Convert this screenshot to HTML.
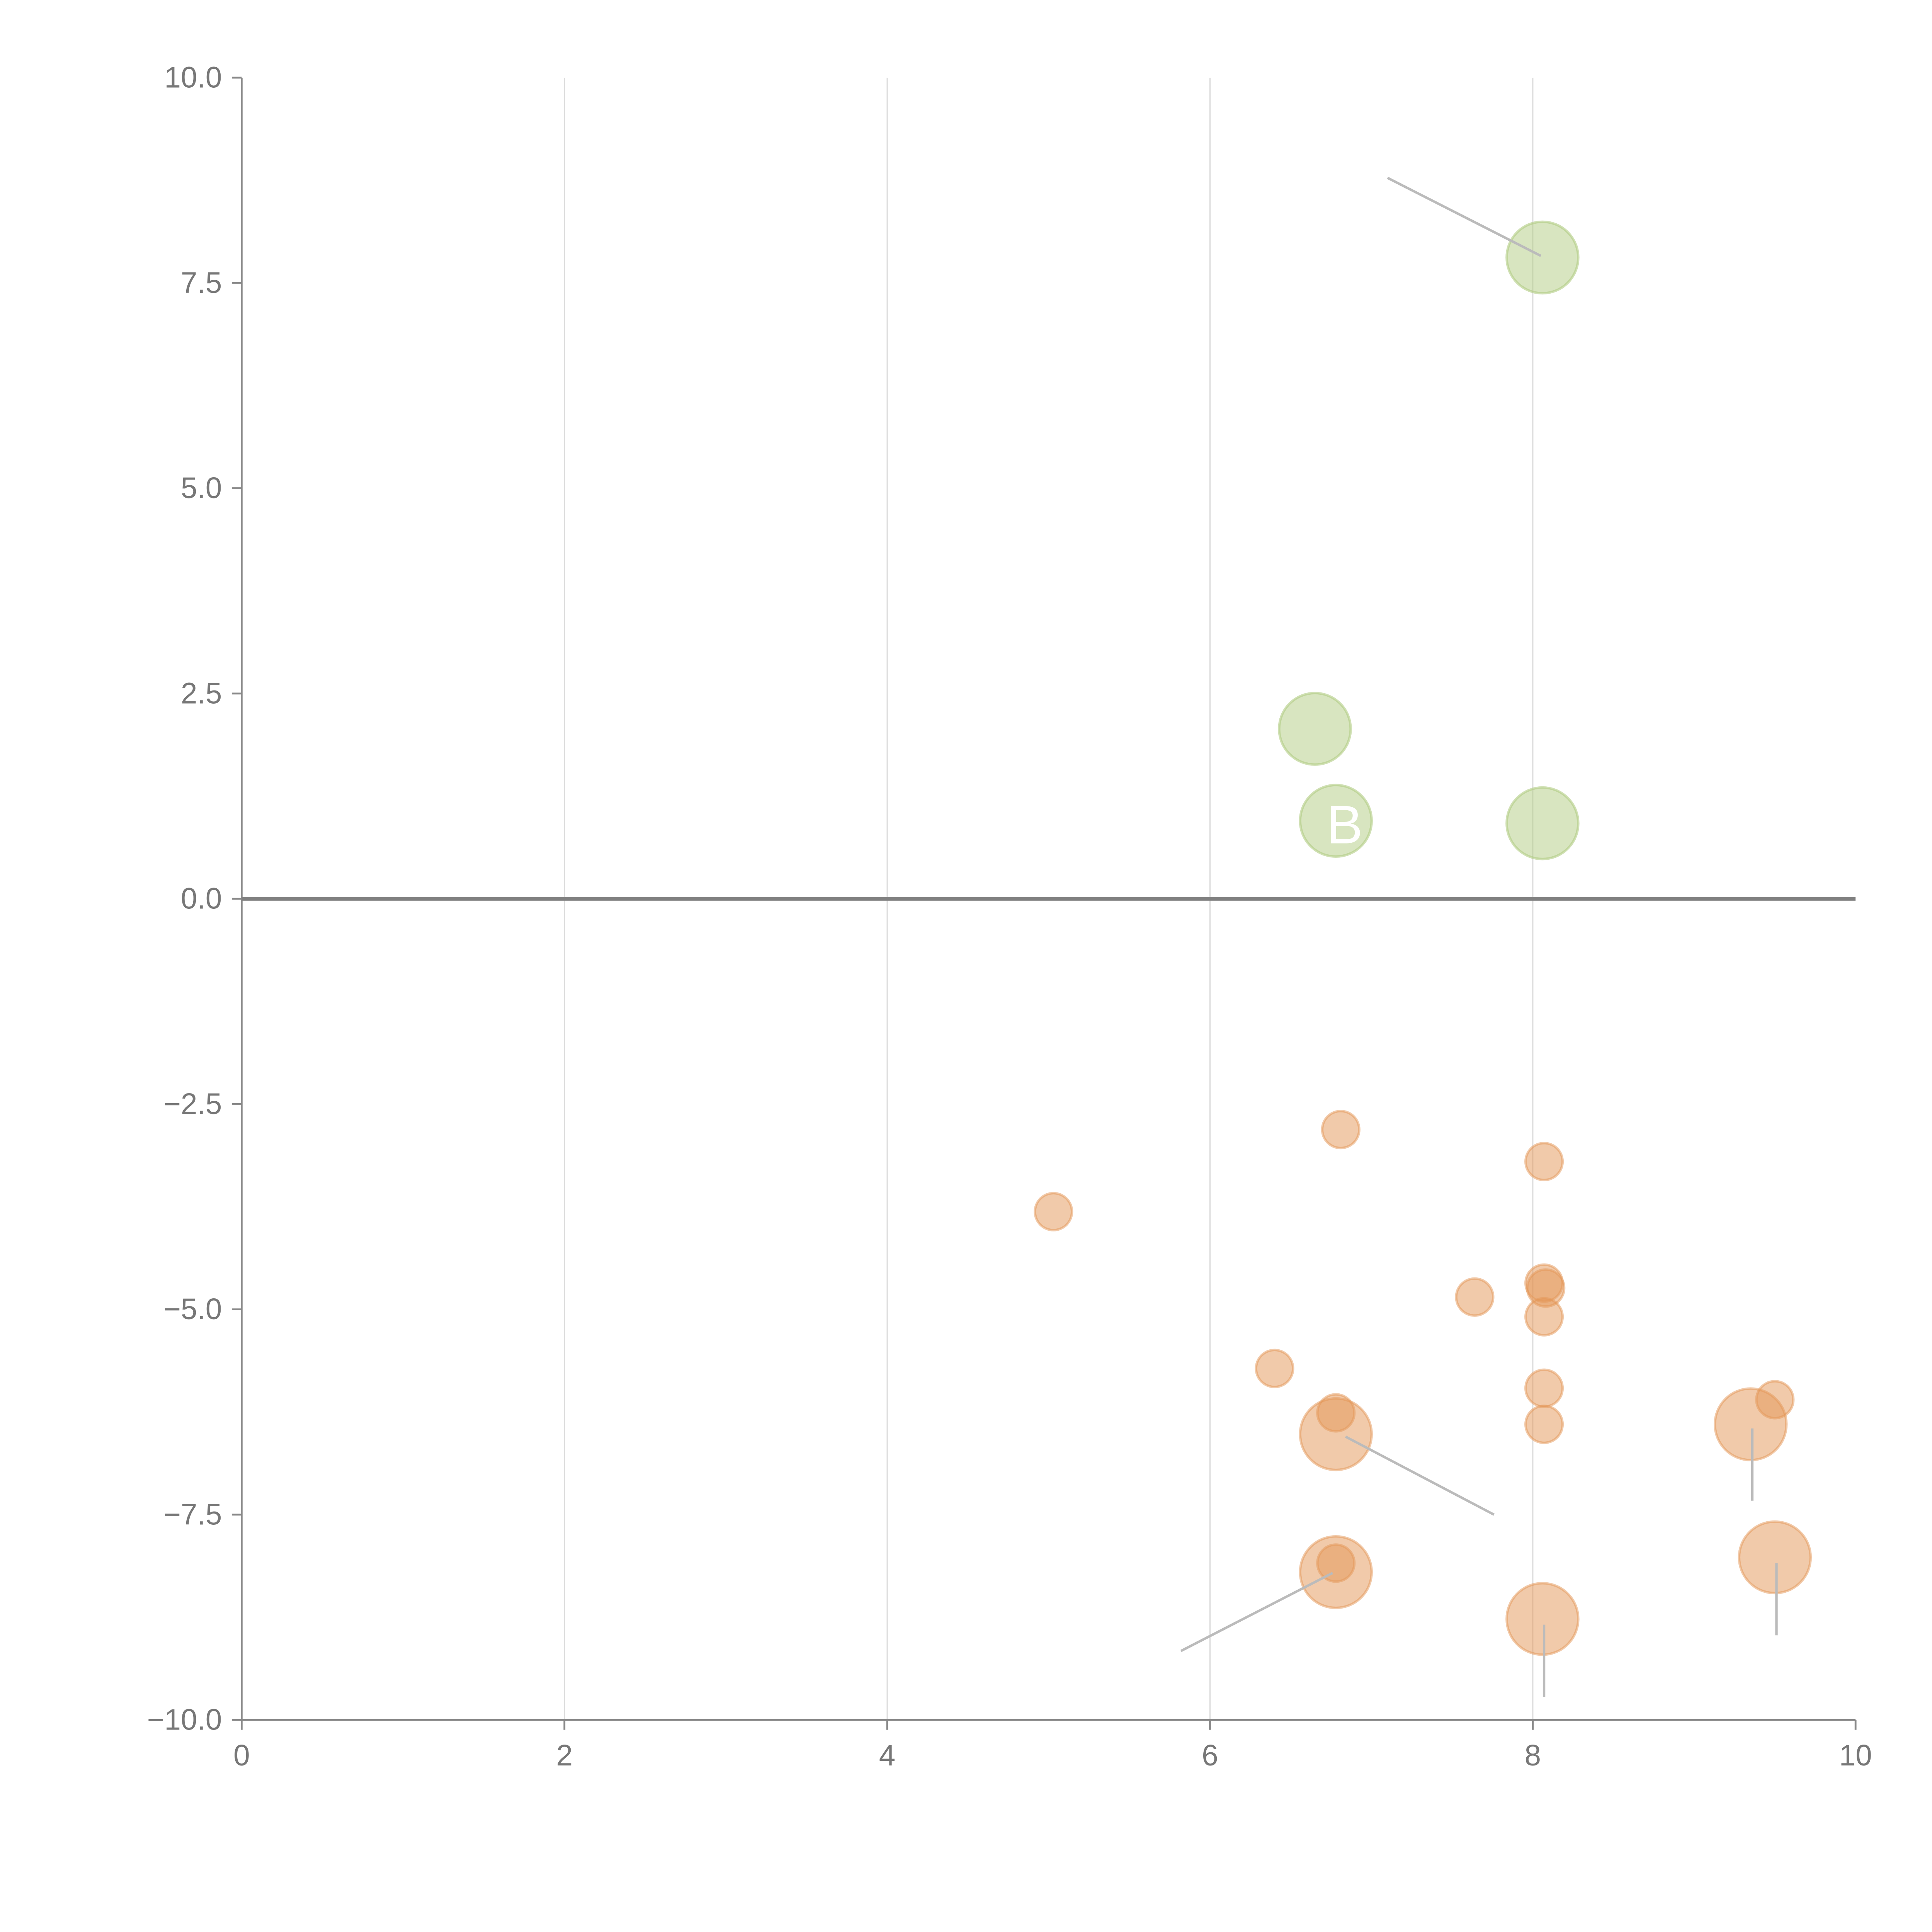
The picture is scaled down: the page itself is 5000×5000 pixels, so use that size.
<!DOCTYPE html>
<html><head><meta charset="utf-8"><style>
html,body{margin:0;padding:0;background:#fff;}
svg{display:block;}
text{font-family:"Liberation Sans",sans-serif;}
</style></head><body>
<svg id="chart" width="5000" height="5000" viewBox="0 0 1567 1567" xmlns="http://www.w3.org/2000/svg">
<g id="grid"></g>
<g id="axes"></g>
<g id="marks"></g>
<g id="labels"></g>
</svg>
<script>
const xTicks = [0, 2, 4, 6, 8, 10];
const yTicks = [10, 7.5, 5, 2.5, 0, -2.5, -5, -7.5, -10];
const yTickLabels = ["10.0", "7.5", "5.0", "2.5", "0.0", "\u22122.5", "\u22125.0", "\u22127.5", "\u221210.0"];
const greenX = [8.06, 6.65, 6.78, 8.06];
const greenY = [7.81, 2.07, 0.95, 0.92];
const smallX = [6.81, 8.07, 5.03, 8.07, 8.08, 7.64, 8.07, 6.40, 8.07, 9.50, 6.78, 8.07, 6.78];
const smallY = [-2.81, -3.20, -3.81, -4.68, -4.74, -4.85, -5.09, -5.72, -5.96, -6.10, -6.26, -6.40, -8.09];
const bigX = [6.78, 9.35, 6.78, 9.50, 8.06];
const bigY = [-6.52, -6.40, -8.20, -8.02, -8.77];
const leaderX1 = [7.10, 6.84, 5.82, 9.36, 9.51, 8.07];
const leaderY1 = [8.78, -6.55, -9.16, -6.45, -8.09, -8.84];
const leaderX2 = [8.05, 7.76, 6.76, 9.36, 9.51, 8.07];
const leaderY2 = [7.83, -7.50, -8.21, -7.33, -8.97, -9.72];

const NS = "http://www.w3.org/2000/svg";
const X0 = 196, X1 = 1505, Y0 = 1395, Y1 = 63;
function sx(v){ return X0 + (v - 0) / 10 * (X1 - X0); }
function sy(v){ return Y0 - (v + 10) / 20 * (Y0 - Y1); }
function mk(tag, attrs, parent){
  const e = document.createElementNS(NS, tag);
  for (const k in attrs) e.setAttribute(k, attrs[k]);
  parent.appendChild(e);
  return e;
}
const grid = document.getElementById('grid');
const axes = document.getElementById('axes');
const marks = document.getElementById('marks');
const labels = document.getElementById('labels');

xTicks.forEach(function(t){
  if (t > 0 && t < 10) {
    const g = mk('line', {x1: sx(t), x2: sx(t), y1: Y1, y2: Y0, stroke: '#dcdcdc', 'stroke-width': 1}, grid);
    
    
  }
  const tk = mk('line', {x1: sx(t), x2: sx(t), y1: Y0, y2: Y0 + 8, stroke: '#888', 'stroke-width': 1.5}, axes);
  
  
  const tx = mk('text', {x: sx(t), y: Y0 + 37, 'text-anchor': 'middle', 'font-size': 24, fill: '#777'}, axes);
  tx.textContent = String(t);
  
  
});
yTicks.forEach(function(t, i){
  const tk = mk('line', {x1: X0 - 8, x2: X0, y1: sy(t), y2: sy(t), stroke: '#888', 'stroke-width': 1.5}, axes);
  
  
  const tx = mk('text', {x: X0 - 16, y: sy(t) + 8, 'text-anchor': 'end', 'font-size': 24, fill: '#777'}, axes);
  tx.textContent = yTickLabels[i];
  
  
});
const ya = mk('line', {x1: X0, x2: X0, y1: Y1, y2: Y0, stroke: '#888', 'stroke-width': 1.5}, axes);


const xa = mk('line', {x1: X0, x2: X1, y1: Y0, y2: Y0, stroke: '#888', 'stroke-width': 1.5}, axes);


const zl = mk('line', {x1: X0, x2: X1, y1: sy(0), y2: sy(0), stroke: '#808080', 'stroke-width': 3}, axes);



greenX.forEach(function(v, i){
  const c = mk('circle', {cx: sx(v), cy: sy(greenY[i]), r: 29, fill: 'rgba(177,204,130,0.5)', stroke: 'rgba(177,204,130,0.6)', 'stroke-width': 2}, marks);
  
  
});
bigX.forEach(function(v, i){
  const c = mk('circle', {cx: sx(v), cy: sy(bigY[i]), r: 29, fill: 'rgba(228,150,85,0.5)', stroke: 'rgba(228,150,85,0.5)', 'stroke-width': 2}, marks);
  
  
});
smallX.forEach(function(v, i){
  const c = mk('circle', {cx: sx(v), cy: sy(smallY[i]), r: 15, fill: 'rgba(228,150,85,0.5)', stroke: 'rgba(228,150,85,0.5)', 'stroke-width': 2}, marks);
  
  
});
leaderX1.forEach(function(v, i){
  const l = mk('line', {x1: sx(v), y1: sy(leaderY1[i]), x2: sx(leaderX2[i]), y2: sy(leaderY2[i]), stroke: '#bbb', 'stroke-width': 2}, labels);
  
  
});
const bt = mk('text', {x: 1076, y: 684, 'font-size': 44, fill: '#fff'}, labels);
bt.textContent = 'B';


</script>
</body></html>
